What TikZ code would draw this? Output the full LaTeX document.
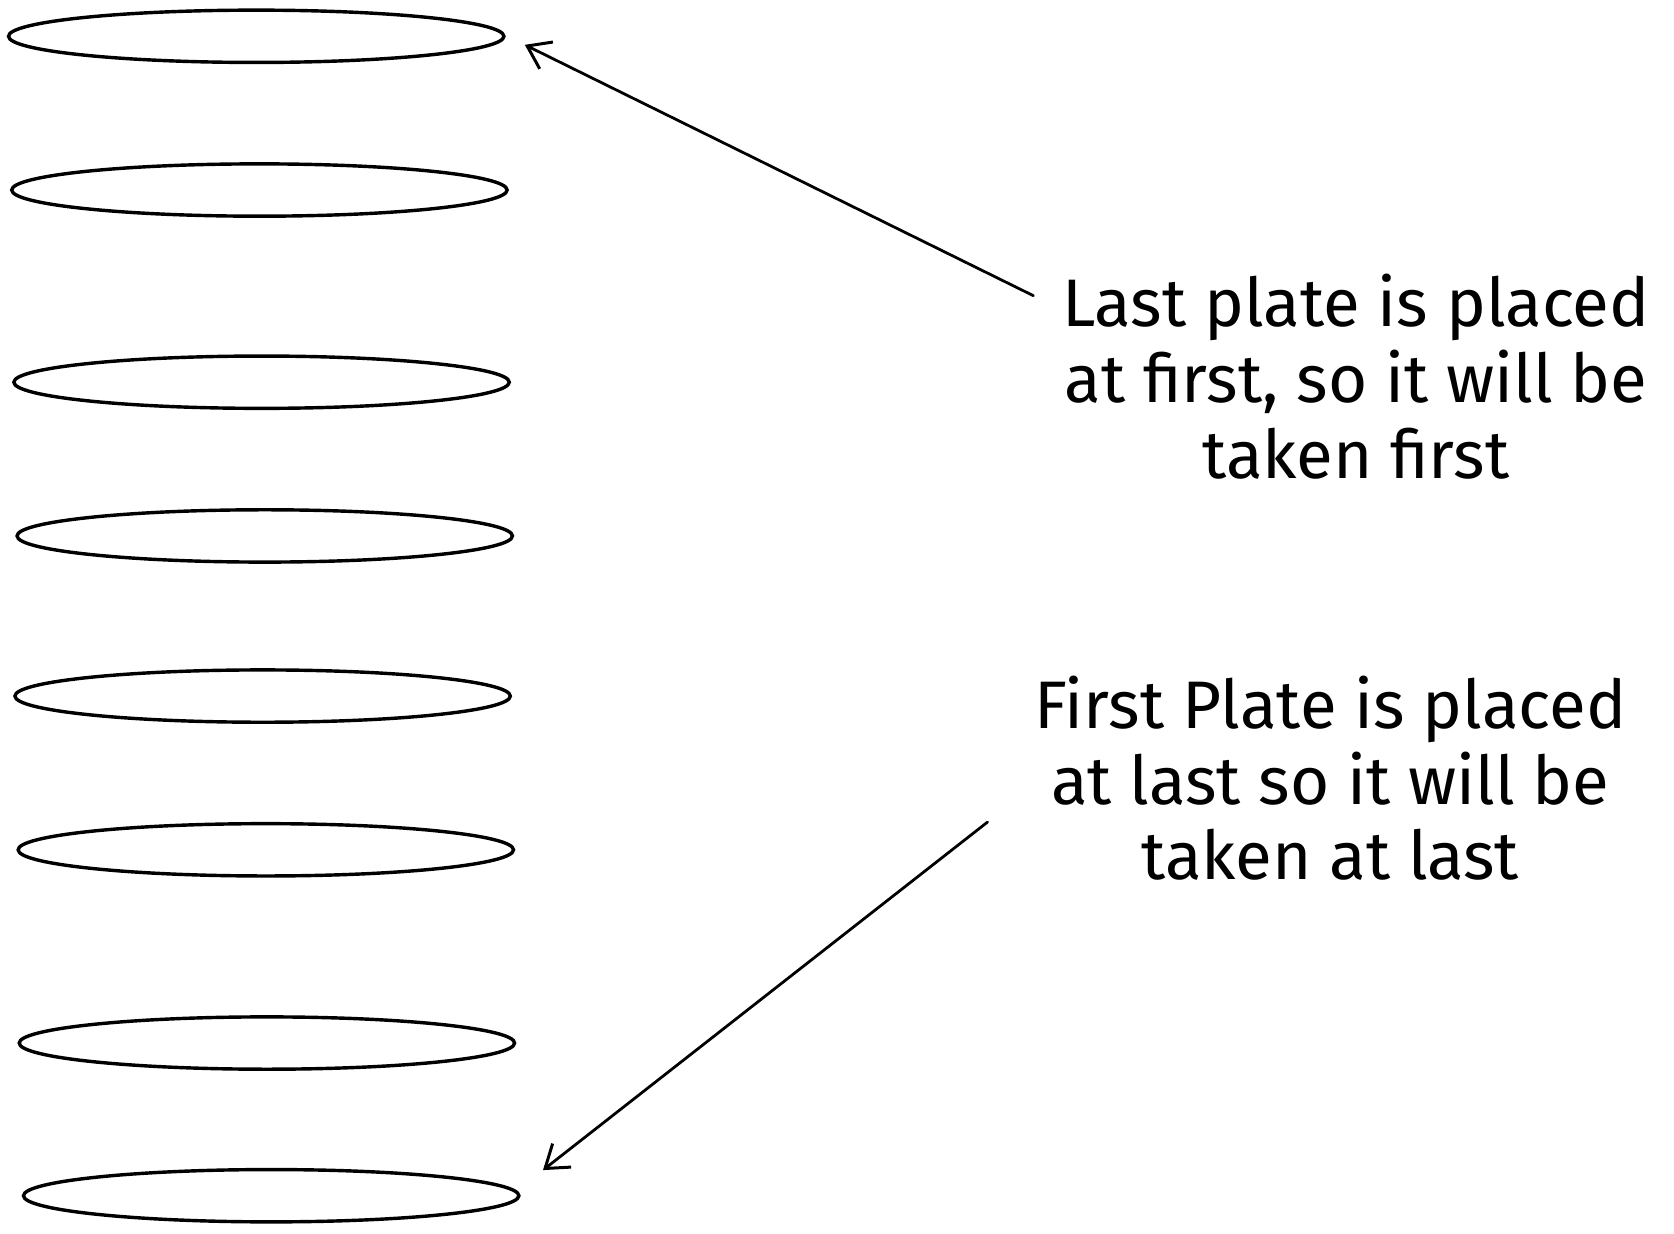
\documentclass[tikz,border=0pt]{standalone}
\usepackage{fontspec}
\setmainfont{Fira Sans}
\usetikzlibrary{arrows.meta,shapes.geometric}

\tikzset{
  plate/.style={draw, ellipse, line width=1.6pt, minimum width=232pt, minimum height=24.5pt, inner sep=0pt},
  note/.style={align=center, font=\fontsize{31.5}{35.5}\selectfont, inner sep=0pt},
  pointer/.style={line width=1.3pt, line cap=round, line join=round, -{Straight Barb[length=10pt, width=14pt, line width=1.4pt]}}
}

\begin{document}
\begin{tikzpicture}[x=0.5pt, y=-0.5pt]
    \useasboundingbox (0,0) rectangle (1568,1155);

    % Stack of plates, top to bottom
    \foreach \i/\px/\py in {1/240/34, 2/243/178, 3/245/358, 4/248/502,
                            5/246/652, 6/249/796, 7/250/977, 8/254/1120} {
        \node[plate] (plate\i) at (\px,\py) {};
    }

    % Notes
    \node[note] (lastnote) at (1270,353) {Last plate is placed\\at first, so it will be\\taken first};
    \node[note] (firstnote) at (1246,729) {First Plate is placed\\at last so it will be\\taken at last};

    % Pointer to the top plate
    \coordinate (lasttail) at (968,277);
    \coordinate (lasthead) at ([shift={(18,8)}]plate1.east);
    \draw[pointer] (lasttail) -- (lasthead);

    % Pointer to the bottom plate
    \coordinate (firsttail) at (925,770);
    \coordinate (firsthead) at ([shift={(21,-24)}]plate8.east);
    \draw[pointer] (firsttail) -- (firsthead);

\end{tikzpicture}
\end{document}
